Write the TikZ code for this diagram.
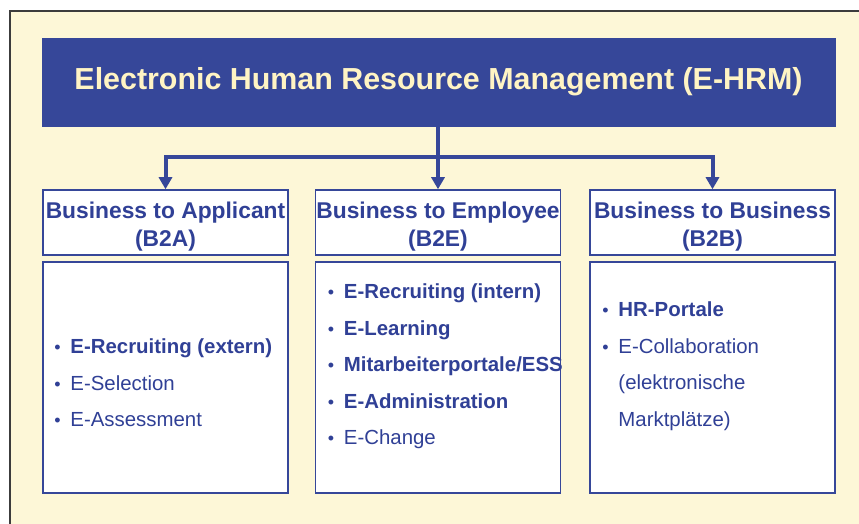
\documentclass[tikz,border=0pt]{standalone}
\usepackage{fontspec}
\setmainfont{Liberation Sans}
\usepackage{xcolor}
\usepackage{tikz}
\usetikzlibrary{arrows.meta}
\usetikzlibrary{calc}

\definecolor{ehrmblue}{RGB}{54,71,153}
\definecolor{ehrmtext}{RGB}{48,64,150}
\definecolor{ehrmcream}{RGB}{253,247,215}
\definecolor{titlecream}{RGB}{255,244,196}
\definecolor{framegray}{RGB}{60,60,60}

\newcommand\itm[1]{\makebox[16pt][l]{\fontsize{18}{18}\selectfont\textbullet}#1}
\newcommand\cont[1]{\hspace*{16pt}#1}
\newcommand\topline{\rule{0pt}{25pt}}

\begin{document}
\begin{tikzpicture}[x=1pt,y=1pt,
  titlebox/.style={fill=ehrmblue,draw=ehrmblue,text=titlecream,
    font=\bfseries\fontsize{30.4}{36}\selectfont,
    minimum width=793pt,minimum height=88pt,inner sep=0pt},
  headbox/.style={draw=ehrmblue,line width=1.5pt,fill=white,text=ehrmtext,
    font=\bfseries\fontsize{22.8}{28}\selectfont,align=center,
    minimum width=245pt,minimum height=65pt,inner sep=0pt},
  listbox/.style={draw=ehrmblue,line width=1.5pt,fill=white,
    minimum width=245pt,minimum height=231pt,inner sep=0pt},
  items/.style={text=ehrmtext,font=\fontsize{20.4}{36.5}\selectfont,
    anchor=base west,inner sep=0pt},
  link/.style={draw=ehrmblue,line width=4pt},
  tip/.style={-{Triangle[length=12pt,width=13pt]}}]
\useasboundingbox (0,0) rectangle (859,524);
\fill[white] (0,0) rectangle (859,524);

% cream sheet with its top and left edge
\fill[ehrmcream] (10,0) rectangle (859,513);
\draw[framegray,line width=1.6pt] (10,0) -- (10,513) -- (859,513);

\node[titlebox] (ehrm) at (438.5,442) {Electronic Human Resource Management (E-HRM)};

\node[headbox] (b2a) at (165.5,301.5) {\topline Business to Applicant\\(B2A)};
\node[headbox] (b2e) at (438,301.5) {\topline Business to Employee\\(B2E)};
\node[headbox] (b2b) at (712.5,301.5) {\topline Business to Business\\(B2B)};

\node[listbox] (b2abox) at (165.5,146.5) {};
\node[listbox] (b2ebox) at (438,146.5) {};
\node[listbox] (b2bbox) at (712.5,146.5) {};

\coordinate (bar) at (0,367);

\draw[link,tip] (ehrm.south -| b2e.north) -- (b2e.north);
\draw[link,{Triangle[length=12pt,width=13pt]}-{Triangle[length=12pt,width=13pt]}]
  (b2a.north) -- (b2a.north |- bar) -- (b2b.north |- bar) -- (b2b.north);

\node[items] (b2alist) at ([xshift=12pt]b2abox.west |- 0,170) {%
  \begin{tabular}[t]{@{}l@{}}
  \itm{\textbf{E-Recruiting (extern)}}\\
  \itm{E-Selection}\\
  \itm{E-Assessment}
  \end{tabular}};

\node[items] (b2elist) at ([xshift=13pt]b2ebox.west |- 0,225) {%
  \begin{tabular}[t]{@{}l@{}}
  \itm{\textbf{E-Recruiting (intern)}}\\
  \itm{\textbf{E-Learning}}\\
  \itm{\textbf{Mitarbeiterportale/ESS}}\\
  \itm{\textbf{E-Administration}}\\
  \itm{E-Change}
  \end{tabular}};

\node[items] (b2blist) at ([xshift=13pt]b2bbox.west |- 0,207) {%
  \begin{tabular}[t]{@{}l@{}}
  \itm{\textbf{HR-Portale}}\\
  \itm{E-Collaboration}\\
  \cont{(elektronische}\\
  \cont{Marktplätze)}
  \end{tabular}};

\end{tikzpicture}
\end{document}
